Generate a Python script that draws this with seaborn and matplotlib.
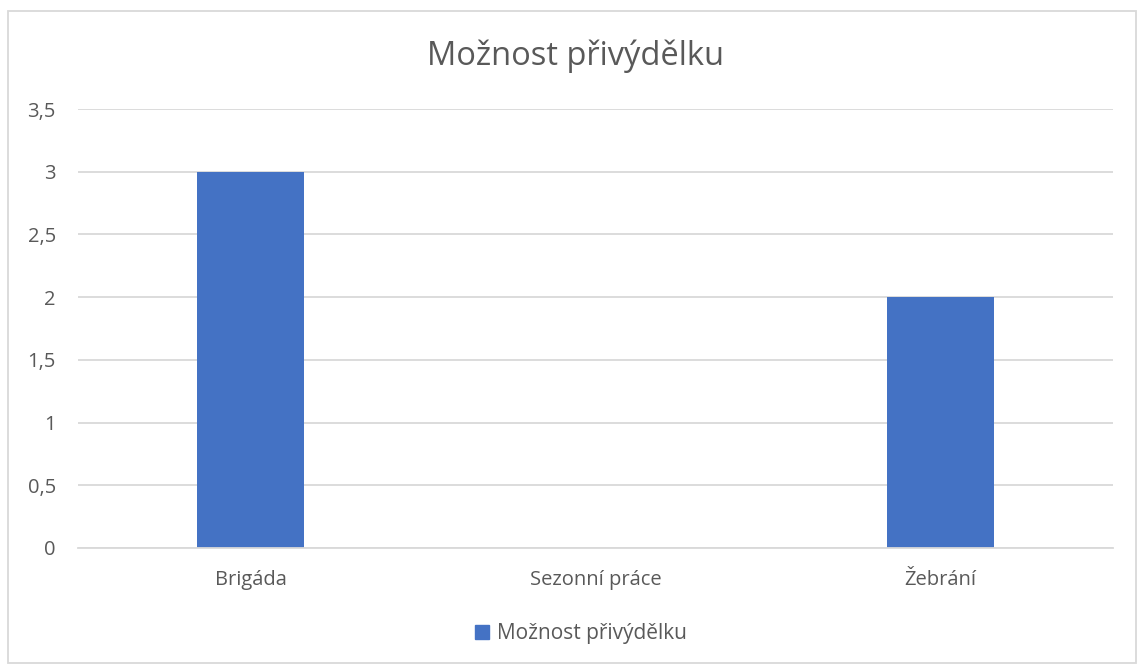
import matplotlib
matplotlib.use("Agg")
import matplotlib.pyplot as plt
import seaborn as sns
import pandas as pd
from matplotlib.patches import Rectangle

categories = ["Brigáda", "Sezonní práce", "Žebrání"]
values = [3, 0, 2]
series_name = "Možnost přivýdělku"
yticks = [0, 0.5, 1, 1.5, 2, 2.5, 3, 3.5]
ytick_labels = ["0", "0,5", "1", "1,5", "2", "2,5", "3", "3,5"]

df = pd.DataFrame({"kategorie": categories, "hodnota": values, "serie": series_name})

sns.set_theme(style="white")
plt.rcParams["font.family"] = ["Open Sans", "DejaVu Sans"]

text_color = "#595959"
bar_color = "#4472C4"
grid_color = "#D9D9D9"

fig = plt.figure(figsize=(11.39, 6.66), dpi=100)
ax = fig.add_axes([0.0685, 0.1772, 0.9085, 0.6591])

sns.barplot(data=df, x="kategorie", y="hodnota", hue="serie",
            palette=[bar_color], saturation=1, width=0.31, linewidth=0,
            ax=ax, legend=False)

ax.set_ylim(0, 3.5)
ax.set_xlim(-0.5, 2.5)
ax.set_yticks(yticks)
ax.set_yticklabels(ytick_labels)
ax.yaxis.grid(True, color=grid_color, linewidth=1.3)
ax.set_axisbelow(True)
for s in ["top", "right", "left"]:
    ax.spines[s].set_visible(False)
ax.spines["bottom"].set_color(grid_color)
ax.spines["bottom"].set_linewidth(1.3)
ax.tick_params(axis="both", length=0, labelsize=14.5, colors=text_color)
ax.tick_params(axis="y", pad=16)
ax.tick_params(axis="x", pad=16)
ax.set_xlabel("")
ax.set_ylabel("")

fig.text(0.505, 0.915, series_name, ha="center", va="center",
         fontsize=23.5, color=text_color)

handle = Rectangle((0, 0), 1, 1, color=bar_color)
fig.legend([handle], [series_name], loc="center", bbox_to_anchor=(0.51, 0.049),
           frameon=False, fontsize=15, labelcolor=text_color,
           handlelength=0.65, handleheight=0.65, handletextpad=0.4)

fig.patches.append(Rectangle((0.007, 0.004), 0.99, 0.98, transform=fig.transFigure,
                             fill=False, edgecolor="#D9D9D9", linewidth=1.3))

fig.savefig("out.png", dpi=100)
